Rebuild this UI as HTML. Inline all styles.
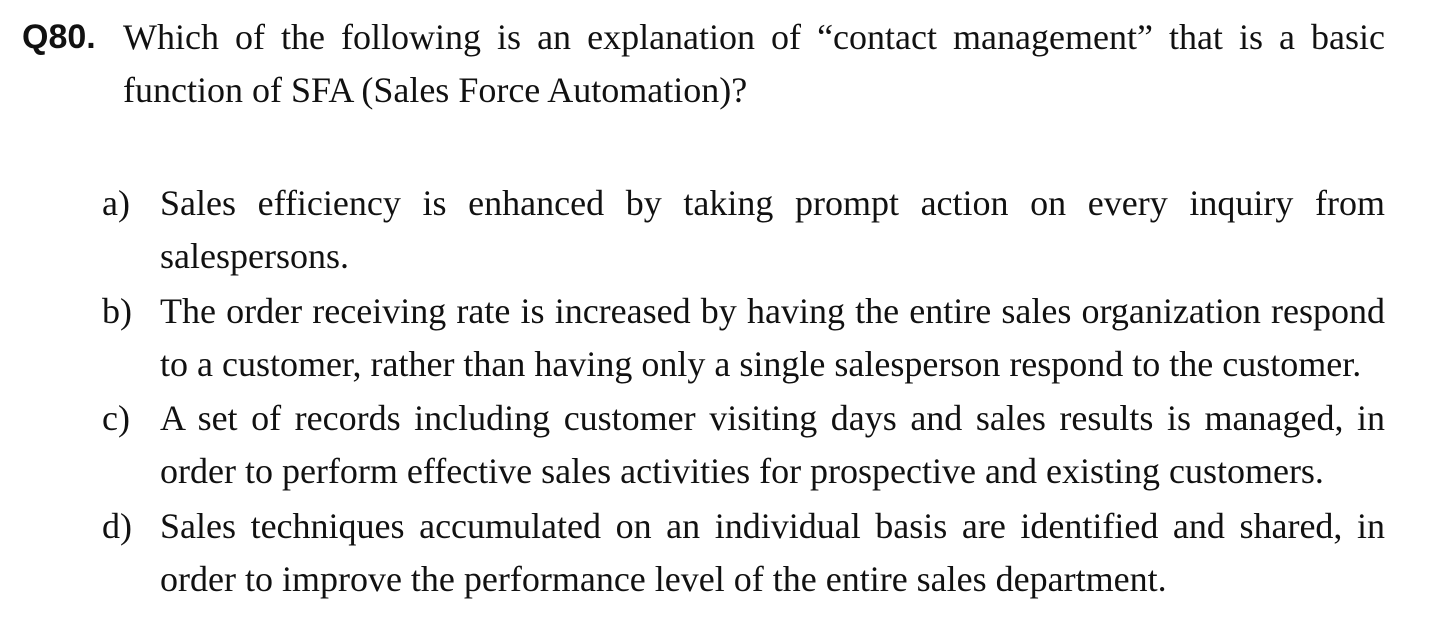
<!DOCTYPE html>
<html><head><meta charset="utf-8"><style>
html,body{margin:0;padding:0;background:#fff;}
body{width:1450px;height:622px;position:relative;overflow:hidden;font-family:"Liberation Serif",serif;color:#111;}
.l{position:absolute;font-size:36px;line-height:54px;height:54px;white-space:nowrap;}
.j{text-align:justify;text-align-last:justify;white-space:normal;}
.q{position:absolute;left:22px;top:10px;font-family:"Liberation Sans",sans-serif;font-weight:bold;font-size:34px;line-height:54px;}
.lab{position:absolute;left:102px;font-size:36px;line-height:54px;}
</style></head><body>
<div class="q">Q80.</div>
<div class="l j" style="left:123px;top:10px;width:1262px">Which of the following is an explanation of “contact management” that is a basic</div>
<div class="l" style="left:123px;top:63px">function of SFA (Sales Force Automation)?</div>

<div class="lab" style="top:176px">a)</div>
<div class="l j" style="left:160px;top:176px;width:1225px">Sales efficiency is enhanced by taking prompt action on every inquiry from</div>
<div class="l" style="left:160px;top:229px">salespersons.</div>

<div class="lab" style="top:284px">b)</div>
<div class="l j" style="left:160px;top:284px;width:1225px">The order receiving rate is increased by having the entire sales organization respond</div>
<div class="l" style="left:160px;top:337px">to a customer, rather than having only a single salesperson respond to the customer.</div>

<div class="lab" style="top:391px">c)</div>
<div class="l j" style="left:160px;top:391px;width:1225px">A set of records including customer visiting days and sales results is managed, in</div>
<div class="l" style="left:160px;top:444px">order to perform effective sales activities for prospective and existing customers.</div>

<div class="lab" style="top:499px">d)</div>
<div class="l j" style="left:160px;top:499px;width:1225px">Sales techniques accumulated on an individual basis are identified and shared, in</div>
<div class="l" style="left:160px;top:552px">order to improve the performance level of the entire sales department.</div>
</body></html>
